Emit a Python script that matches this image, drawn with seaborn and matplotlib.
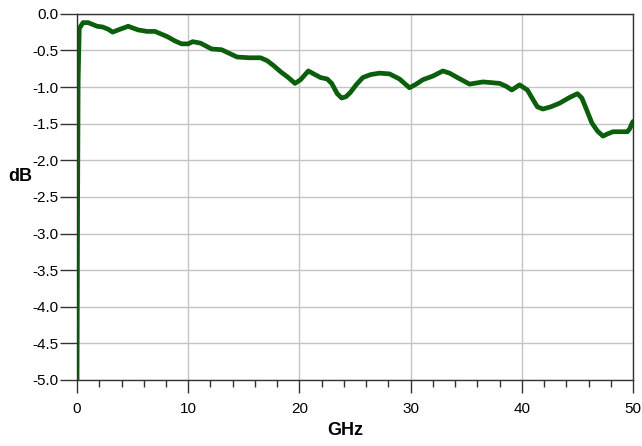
import numpy as np
import pandas as pd
import matplotlib
matplotlib.use('Agg')
import matplotlib.pyplot as plt
from matplotlib.ticker import MultipleLocator, FormatStrFormatter
import seaborn as sns

# Insertion loss trace

freq_ghz = [0.0, 0.05, 0.1, 0.2, 0.54, 1.0, 1.8, 2.3, 2.8, 3.2, 3.7, 4.6, 5.5, 6.3, 7.0,
            8.1, 8.8, 9.4, 10.0, 10.4, 11.1, 12.1, 13.0, 13.7, 14.4, 15.5, 16.5, 17.1,
            17.7, 18.3, 19.0, 19.6, 20.1, 20.8, 21.4, 21.9, 22.5, 22.9, 23.4, 23.8,
            24.2, 24.6, 25.1, 25.7, 26.4, 27.2, 28.1, 29.0, 29.9, 30.5, 31.1, 32.0,
            32.9, 33.5, 34.2, 35.3, 36.5, 37.3, 38.0, 38.6, 39.1, 39.8, 40.5, 41.0,
            41.4, 41.9, 42.6, 43.4, 44.2, 45.0, 45.4, 45.8, 46.3, 46.8, 47.3, 47.7,
            48.2, 48.8, 49.5, 49.7, 49.9, 50.0]
loss_db = [-5.0, -2.6, -0.9, -0.2, -0.12, -0.12, -0.17, -0.18, -0.21, -0.25, -0.22, -0.17,
           -0.22, -0.24, -0.24, -0.31, -0.37, -0.41, -0.41, -0.38, -0.40, -0.48, -0.49,
           -0.54, -0.59, -0.60, -0.60, -0.64, -0.71, -0.79, -0.87, -0.95, -0.90, -0.78,
           -0.83, -0.87, -0.89, -0.95, -1.09, -1.15, -1.13, -1.07, -0.97, -0.87, -0.83,
           -0.81, -0.82, -0.89, -1.01, -0.96, -0.90, -0.85, -0.78, -0.81, -0.87, -0.96,
           -0.93, -0.94, -0.95, -0.99, -1.04, -0.97, -1.04, -1.17, -1.27, -1.30, -1.27,
           -1.22, -1.15, -1.09, -1.15, -1.30, -1.49, -1.60, -1.67, -1.64, -1.61, -1.61,
           -1.61, -1.57, -1.50, -1.47]

df = pd.DataFrame({'GHz': freq_ghz, 'dB': loss_db})

sns.set_theme(style='white')
plt.rcParams['font.family'] = ['Liberation Sans', 'DejaVu Sans']
plt.rcParams['text.color'] = 'black'
plt.rcParams['axes.labelcolor'] = 'black'

fig = plt.figure(figsize=(6.42, 4.46), dpi=100)
ax = fig.add_axes([0.12, 0.148, 0.866, 0.821])

sns.lineplot(data=df, x='GHz', y='dB', color='#0b5e0b', linewidth=3.4, ax=ax,
             solid_joinstyle='round', solid_capstyle='round')

ax.set_xlim(0, 50)
ax.set_ylim(-5.0, 0.0)
ax.xaxis.set_major_locator(MultipleLocator(10))
ax.xaxis.set_minor_locator(MultipleLocator(2))
ax.yaxis.set_major_locator(MultipleLocator(0.5))
ax.yaxis.set_major_formatter(FormatStrFormatter('%.1f'))

ax.grid(True, which='major', color='#c4c4c4', linewidth=1.0)
ax.set_axisbelow(True)
for s in ax.spines.values():
    s.set_color('#333333')
    s.set_linewidth(1.0)

ax.tick_params(axis='x', which='major', direction='out', length=9, width=1, color='#333333',
               labelsize=11, labelcolor='black', pad=7, bottom=True)
ax.tick_params(axis='x', which='minor', direction='out', length=5, width=1, color='#333333',
               bottom=True)
ax.tick_params(axis='y', which='major', direction='out', length=12, width=1, color='#333333',
               labelsize=11, labelcolor='black', pad=1, left=True)

ax.set_xlabel('GHz', fontsize=13, fontweight='bold')
ax.xaxis.set_label_coords(0.482, -0.139)
ax.xaxis.label.set_verticalalignment('center')
ax.set_ylabel('dB', fontsize=13, fontweight='bold', rotation=0)
ax.yaxis.set_label_coords(-0.103, 0.557)
ax.yaxis.label.set_verticalalignment('center')

fig.savefig('out.png', dpi=100)
